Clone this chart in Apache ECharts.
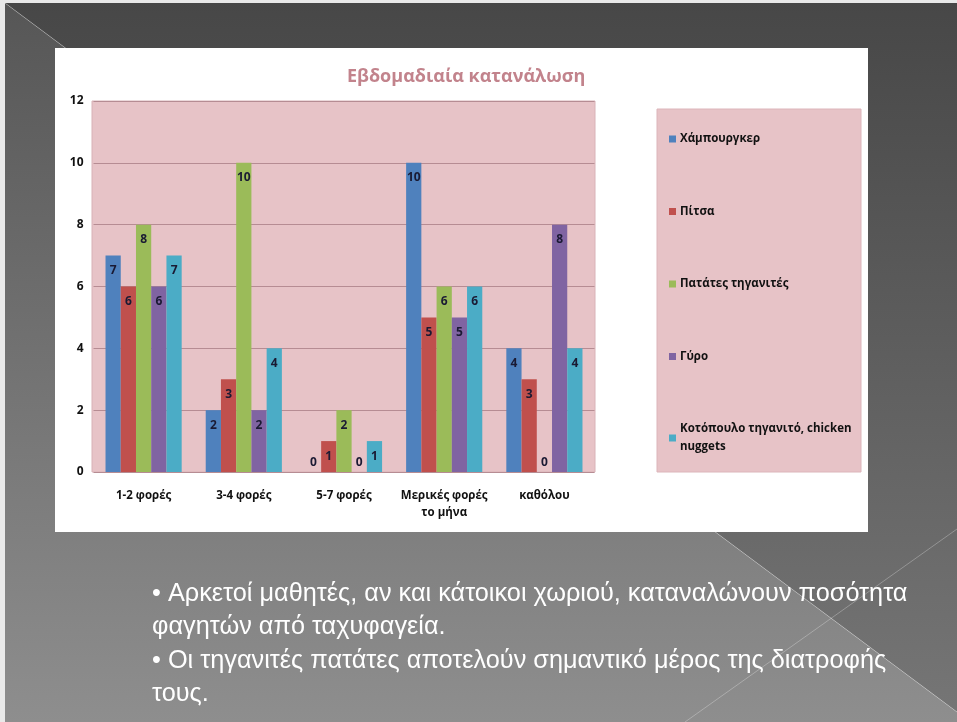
<!DOCTYPE html>
<html>
<head>
<meta charset="utf-8">
<script src="https://cdn.jsdelivr.net/npm/echarts@6/dist/echarts.min.js"></script>
<style>html,body{margin:0;padding:0;background:#fff;}#c{width:957px;height:722px;}</style>
</head>
<body>
<div id="c"></div>
<script>
const categories = ['1-2 φορές', '3-4 φορές', '5-7 φορές', 'Μερικές φορές\nτο μήνα', 'καθόλου'];
const seriesNames = ['Χάμπουργκερ', 'Πίτσα', 'Πατάτες τηγανιτές', 'Γύρο', 'Κοτόπουλο τηγανιτό, chicken\nnuggets'];
const hamburger = [7, 2, 0, 10, 4];
const pizza = [6, 3, 1, 5, 3];
const fries = [8, 10, 2, 6, 0];
const gyro = [6, 2, 0, 5, 8];
const chicken = [7, 4, 1, 6, 4];
const yTicks = [0, 2, 4, 6, 8, 10, 12];
const titleText = 'Εβδομαδιαία κατανάλωση';
const bullets = [
  '• Αρκετοί μαθητές, αν και κάτοικοι χωριού, καταναλώνουν ποσότητα',
  'φαγητών από ταχυφαγεία.',
  '• Οι τηγανιτές πατάτες αποτελούν σημαντικό μέρος της διατροφής',
  'τους.'
];

const colors = ['#4f81bd', '#c0504d', '#9bbb59', '#8064a2', '#4bacc6'];
const values = [hamburger, pizza, fries, gyro, chicken];
const chartFont = '"Open Sans", "DejaVu Sans", sans-serif';

const chart = echarts.init(document.getElementById('c'), null, {renderer: 'canvas'});

const series = values.map((arr, i) => ({
  name: seriesNames[i],
  type: 'bar',
  barGap: '0%',
  barCategoryGap: '24%',
  itemStyle: {color: colors[i]},
  label: {
    show: true, position: 'insideTop', distance: 9,
    color: '#1a1a33', fontWeight: 'bold', fontSize: 12, fontFamily: chartFont
  },
  data: arr.map(v => v === 0 ? {value: v, label: {position: 'top', distance: 3}} : v),
  z: 5
}));

const bg = [
  {type: 'rect', shape: {x: 0, y: 0, width: 957, height: 722}, style: {fill: '#e9e9e9'}, z: -10},
  {type: 'polygon', shape: {points: [[5, 3], [957, 3], [957, 712]]},
   style: {fill: {type: 'linear', x: 0, y: 0, x2: 0, y2: 722, global: true,
     colorStops: [{offset: 0, color: '#474747'}, {offset: 1, color: '#767676'}]}}, z: -9},
  {type: 'polygon', shape: {points: [[5, 3], [957, 712], [957, 722], [5, 722]]},
   style: {fill: {type: 'linear', x: 0, y: 0, x2: 0, y2: 722, global: true,
     colorStops: [{offset: 0, color: '#565656'}, {offset: 1, color: '#8e8e8e'}]}}, z: -9},
  {type: 'line', shape: {x1: 5, y1: 3, x2: 957, y2: 712}, style: {stroke: 'rgba(255,255,255,0.28)', lineWidth: 1}, z: -8},
  {type: 'line', shape: {x1: 957, y1: 529, x2: 685, y2: 722}, style: {stroke: 'rgba(255,255,255,0.28)', lineWidth: 1}, z: -8},
  {type: 'rect', shape: {x: 55, y: 48, width: 813, height: 484}, style: {fill: '#ffffff'}, z: -7},
  {type: 'rect', shape: {x: 92, y: 101, width: 503, height: 371}, style: {fill: '#e7c3c7', stroke: '#d8b2b7', lineWidth: 1}, z: -6},
  {type: 'rect', shape: {x: 657, y: 109, width: 204, height: 363}, style: {fill: '#e7c3c7', stroke: '#dcb5ba', lineWidth: 1}, z: -6}
];
bullets.forEach((t, i) => {
  bg.push({type: 'text', x: 152, y: 594 + i * 33.3,
    style: {text: t, fill: '#ffffff', font: '25.3px "Liberation Sans", sans-serif', textVerticalAlign: 'middle'}, z: 10});
});

chart.setOption({
  animation: false,
  title: {
    text: titleText, left: 342, top: 63,
    textStyle: {color: '#c2838c', fontSize: 18, fontWeight: 'bold', fontFamily: chartFont}
  },
  legend: {
    orient: 'vertical', left: 664, top: 125,
    itemWidth: 7, itemHeight: 7, itemGap: 54.5,
    icon: 'rect',
    data: seriesNames,
    textStyle: {color: '#111', fontSize: 11.5, fontWeight: 'bold', fontFamily: chartFont, lineHeight: 18, padding: [0, 0, 0, -1]}
  },
  grid: {
    left: 93.5, top: 101, width: 501, height: 371, containLabel: false
  },
  xAxis: {
    type: 'category', data: categories,
    axisLine: {show: false}, axisTick: {show: false},
    axisLabel: {margin: 15, color: '#111', fontSize: 11.5, fontWeight: 'bold', fontFamily: chartFont, lineHeight: 17, interval: 0}
  },
  yAxis: {
    type: 'value', min: yTicks[0], max: yTicks[yTicks.length - 1], interval: 2,
    axisLine: {show: false}, axisTick: {show: false},
    splitLine: {lineStyle: {color: '#b68c93', width: 1}},
    axisLabel: {margin: 10, color: '#111', fontSize: 12, fontWeight: 'bold', fontFamily: chartFont}
  },
  graphic: bg,
  series: series
});
</script>
</body>
</html>
